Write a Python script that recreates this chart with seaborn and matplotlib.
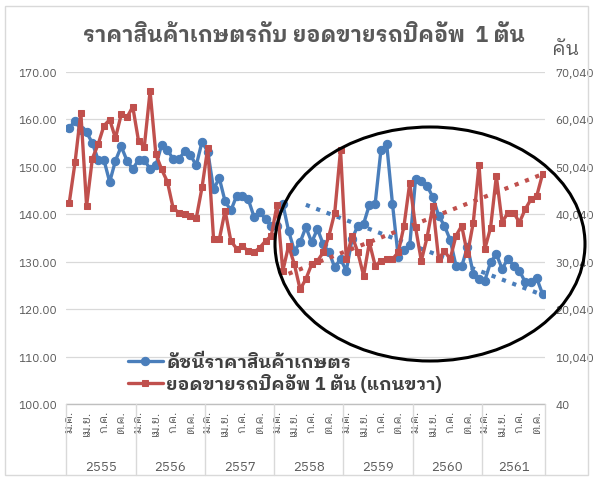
import numpy as np
import pandas as pd
import matplotlib
matplotlib.use("Agg")
import matplotlib.pyplot as plt
import seaborn as sns
from matplotlib import font_manager, ft2font
from matplotlib.patches import Ellipse
from matplotlib.ticker import FuncFormatter

years = ["2555", "2556", "2557", "2558", "2559", "2560", "2561"]
months_per_year = [12, 12, 12, 12, 12, 12, 11]
quarter_labels = ["ม.ค.", "เม.ย.", "ก.ค.", "ต.ค."]

# agricultural price index (left axis)
price_index = [
    158.2, 159.7, 157.8, 157.3, 155.0, 151.5, 151.5, 146.8, 151.3, 154.3, 151.3, 149.5,
    151.5, 151.5, 149.5, 150.3, 154.6, 153.6, 151.6, 151.6, 153.3, 152.5, 150.3, 155.3,
    153.2, 145.3, 147.6, 142.7, 140.8, 143.9, 143.9, 143.2, 139.5, 140.4, 139.0, 137.6,
    137.6, 142.2, 136.5, 132.3, 134.1, 137.3, 134.1, 136.9, 133.7, 132.0, 128.8, 130.6,
    128.1, 134.8, 137.6, 138.0, 142.0, 142.2, 153.5, 154.8, 142.2, 131.0, 132.5, 133.5,
    147.4, 147.0, 146.0, 143.6, 139.7, 137.6, 134.6, 129.2, 129.0, 133.2, 127.5, 126.4,
    126.0, 129.9, 131.6, 128.5, 130.6, 129.2, 128.1, 125.7, 125.7, 126.5, 123.2,
]

# 1-ton pickup sales, units (right axis)
pickup_sales = [
    42500, 51000, 61500, 41800, 51800, 54800, 58700, 60000, 56100, 61100, 60500, 62700,
    55500, 54300, 66000, 52700, 49500, 46900, 41300, 40400, 40100, 39600, 39200, 45700,
    54100, 34800, 34800, 40800, 34400, 32800, 33300, 32300, 32000, 33000, 34400, 35500,
    42000, 28100, 33400, 29500, 24200, 26400, 29500, 30200, 32000, 35500, 40400, 53600,
    30600, 35500, 32000, 27100, 34100, 29200, 30200, 30600, 30600, 32000, 37600, 46700,
    37300, 30200, 35200, 41800, 30600, 32300, 30600, 35500, 37600, 31600, 38300, 50400,
    32700, 37200, 48100, 38300, 40400, 40400, 38300, 41100, 43200, 43900, 48500,
]

# dotted trend lines over the circled period (start / end month)
price_trend_month = [41, 82]
price_trend = [142.0, 123.0]
sales_trend_month = [38, 82]
sales_trend = [27500, 48500]


def thai_faces():
    faces = {}
    for f in font_manager.fontManager.ttflist:
        try:
            if ft2font.FT2Font(f.fname).get_char_index(ord("ก")):
                faces.setdefault(f.name, set()).add(int(f.weight))
        except Exception:
            pass
    return faces


faces = thai_faces()
prefer = ["Noto Sans Thai Looped", "IBM Plex Sans Thai Looped", "Noto Sans Thai",
          "IBM Plex Sans Thai", "Anuphan"]
thai = next((p for p in prefer if p in faces and max(faces[p]) >= 600),
            next((p for p in prefer if p in faces), "DejaVu Sans"))

sns.set_style("white")
plt.rcParams["font.family"] = [thai, "DejaVu Sans"]

df = pd.DataFrame({"month": np.arange(len(price_index)),
                   "price": price_index, "sales": pickup_sales})

blue = "#4A7EBB"
red = "#C0504D"
grey_txt = "#595959"

fig = plt.figure(figsize=(5.93, 4.81), dpi=100)
ax = fig.add_axes([66.4 / 593, 1 - 405 / 481, 479 / 593, 332 / 481])
ax2 = ax.twinx()

sns.lineplot(data=df, x="month", y="price", ax=ax, color=blue, lw=2.4,
             marker="o", markersize=6, markeredgecolor=blue, label="ดัชนีราคาสินค้าเกษตร",
             legend=False)
sns.lineplot(x=price_trend_month, y=price_trend, ax=ax, color=blue, lw=3, ls=":",
             legend=False)
sns.lineplot(data=df, x="month", y="sales", ax=ax2, color=red, lw=2.4,
             marker="s", markersize=5, markeredgecolor=red,
             label="ยอดขายรถปิคอัพ 1 ตัน (แกนขวา)", legend=False)
sns.lineplot(x=sales_trend_month, y=sales_trend, ax=ax2, color=red, lw=3, ls=":",
             legend=False)

n = len(price_index)
ax.set_xlim(-0.5, n - 0.5)
ax.set_ylim(100, 170)
ax2.set_ylim(40, 70040)
ax.set_yticks(np.arange(100, 171, 10))
ax2.set_yticks(np.arange(40, 70041, 10000))
ax.yaxis.set_major_formatter(FuncFormatter(lambda v, p: f"{v:.2f}"))
ax2.yaxis.set_major_formatter(FuncFormatter(lambda v, p: f"{v:,.0f}"))
for a in (ax, ax2):
    a.set_xlabel("")
    a.set_ylabel("")
    a.tick_params(axis="y", length=0, labelsize=8.5, labelcolor=grey_txt, pad=7)
    for s in a.spines.values():
        s.set_visible(False)
ax.yaxis.grid(True, color="#D9D9D9", lw=0.9)
ax.set_axisbelow(True)

# category axis: quarter months + year groups
starts = np.concatenate([[0], np.cumsum(months_per_year)[:-1]])
tick_pos, tick_lab = [], []
for s0, m in zip(starts, months_per_year):
    for k, lab in zip([0, 3, 6, 9], quarter_labels):
        if k < m:
            tick_pos.append(s0 + k)
            tick_lab.append(lab)
ax.set_xticks(tick_pos)
ax.set_xticklabels(tick_lab, rotation=90, fontsize=8.5, color=grey_txt)
ax.tick_params(axis="x", length=0, pad=4)

tr = ax.get_xaxis_transform()
ax.plot([-0.5, n - 0.5], [0, 0], color="#BFBFBF", lw=1, transform=tr, clip_on=False)
bounds = np.concatenate([starts, [n]]) - 0.5
for b in bounds:
    ax.plot([b, b], [0, -0.215], color="#D9D9D9", lw=1, transform=tr, clip_on=False)
for y, s0, m in zip(years, starts, months_per_year):
    ax.text(s0 + (m - 1) / 2, -0.187, y, transform=tr, ha="center", va="center",
            fontsize=9.5, color=grey_txt)

h1, l1 = ax.get_legend_handles_labels()
h2, l2 = ax2.get_legend_handles_labels()
leg = ax2.legend(h1[:1] + h2[:1], l1[:1] + l2[:1], loc="upper left",
                 bbox_to_anchor=(112 / 593, 1 - 338 / 481), bbox_transform=fig.transFigure,
                 frameon=False, fontsize=13, handlelength=1.9, labelspacing=0.15,
                 handletextpad=0.2)
for t in leg.get_texts():
    t.set_color("#404040")
    t.set_fontweight("bold")

fig.text(304 / 593, 1 - 35 / 481, "ราคาสินค้าเกษตรกับ ยอดขายรถปิคอัพ  1 ตัน",
         ha="center", va="center", fontsize=15.5, fontweight="bold", color=grey_txt)
fig.text(566 / 593, 1 - 50 / 481, "คัน", ha="center", va="center", fontsize=14,
         color=grey_txt)
fig.add_artist(Ellipse((430 / 593, 1 - 245 / 481), 310 / 593, 234 / 481,
                       transform=fig.transFigure, fill=False, ec="black", lw=2.2))
fig.add_artist(plt.Rectangle((0.008, 0.01), 0.984, 0.975, transform=fig.transFigure,
                             fill=False, ec="#D9D9D9", lw=1))

fig.savefig("out.png", dpi=100)
